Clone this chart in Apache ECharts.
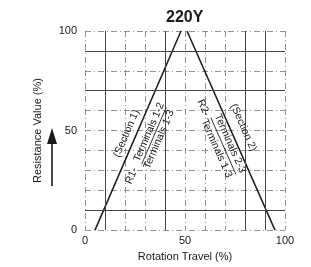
<!DOCTYPE html>
<html>
<head>
<meta charset="utf-8">
<script src="https://cdn.jsdelivr.net/npm/echarts@6/dist/echarts.min.js"></script>
<style>
html, body { margin: 0; padding: 0; background: #fff; }
#chart { width: 311px; height: 267px; }
</style>
</head>
<body>
<div id="chart"></div>
<script>
// the two resistance curves (travel %, value %)
const r1Travel = [5, 48];
const r1Value = [0, 100];
const r2Travel = [51, 95];
const r2Value = [100, 0];
const labelTicks = [0, 50, 100];

// the heavier (solid) rules of the printed grid paper
const solidRows = [10, 70, 90];
const solidCols = [10, 40, 80, 90];

// text notes along the curves, placed in data coords
const noteTexts = ['(Section 1)', 'R1-', 'Terminals 1-2', 'Terminals 1-3',
                   '(Section 2)', 'R2-', 'Terminals 2-3', 'Terminals 1-3'];
const noteAt = [[20.8, 48.5], [23.3, 27.2], [32, 49.2], [37, 45.5],
                [79.2, 51.5], [59.2, 61.4], [72.5, 43.5], [65.8, 41]];
const noteCurve = [1, 1, 1, 1, 2, 2, 2, 2];
const barAt = [[34.5, 47.4], [69.2, 42.2]];

const FONT = "'Liberation Sans', Arial, Helvetica, sans-serif";
const INK = '#1a1a1a';

function pairs(xs, ys) {
  return xs.map((x, i) => [x, ys[i]]);
}

var chart = echarts.init(document.getElementById('chart'));
var gridLine = { color: '#777', width: 0.8, type: [6, 3, 1, 3] };

var solidMarks = solidRows.map(v => ({ yAxis: v }))
  .concat(solidCols.map(v => ({ xAxis: v })));

chart.setOption({
  animation: false,
  title: {
    text: '220Y',
    left: 161,
    top: 5,
    textStyle: { fontFamily: FONT, fontSize: 16, fontWeight: 'bold', color: INK }
  },
  grid: { left: 85, right: 26, top: 31, bottom: 36 },
  xAxis: {
    type: 'value', min: 0, max: 100, interval: 10,
    name: 'Rotation Travel (%)', nameLocation: 'middle', nameGap: 20,
    nameTextStyle: { fontFamily: FONT, fontSize: 11, color: INK },
    axisLine: { show: false }, axisTick: { show: false },
    axisLabel: {
      margin: 5, fontFamily: FONT, fontSize: 11, color: INK,
      formatter: v => labelTicks.includes(v) ? String(v) : ''
    },
    splitLine: { show: true, lineStyle: gridLine }
  },
  yAxis: {
    type: 'value', min: 0, max: 100, interval: 10,
    name: 'Resistance Value (%)', nameLocation: 'middle', nameGap: 42,
    nameTextStyle: { fontFamily: FONT, fontSize: 11, color: INK },
    axisLine: { show: false }, axisTick: { show: false },
    axisLabel: {
      margin: 8, fontFamily: FONT, fontSize: 11, color: INK,
      formatter: v => labelTicks.includes(v) ? String(v) : ''
    },
    splitLine: { show: true, lineStyle: gridLine }
  },
  series: [
    { type: 'line', data: pairs(r1Travel, r1Value), showSymbol: false, z: 3,
      lineStyle: { color: INK, width: 1.5 },
      markLine: {
        silent: true, symbol: ['none', 'none'], label: { show: false },
        lineStyle: { color: '#444', width: 1, type: 'solid' },
        data: solidMarks
      } },
    { type: 'line', data: pairs(r2Travel, r2Value), showSymbol: false, z: 3,
      lineStyle: { color: INK, width: 1.5 } }
  ]
});

function angleOf(xs, ys) {
  var a = chart.convertToPixel({ gridIndex: 0 }, [xs[0], ys[0]]);
  var b = chart.convertToPixel({ gridIndex: 0 }, [xs[1], ys[1]]);
  var ang = Math.atan2(-(b[1] - a[1]), b[0] - a[0]);
  if (ang > Math.PI / 2) ang -= Math.PI;
  if (ang < -Math.PI / 2) ang += Math.PI;
  return ang;
}

var angles = { 1: angleOf(r1Travel, r1Value), 2: angleOf(r2Travel, r2Value) };

var graphics = noteTexts.map((t, i) => {
  var p = chart.convertToPixel({ gridIndex: 0 }, noteAt[i]);
  return {
    type: 'text', x: p[0], y: p[1], rotation: angles[noteCurve[i]],
    style: { text: t, fontFamily: FONT, fontSize: 10.5, fill: INK,
             align: 'center', verticalAlign: 'middle',
             backgroundColor: 'rgba(255,255,255,0)' }
  };
});

barAt.forEach((d, i) => {
  var p = chart.convertToPixel({ gridIndex: 0 }, d);
  graphics.push({
    type: 'line', x: p[0], y: p[1], rotation: angles[i + 1],
    shape: { x1: -31, y1: 0, x2: 31, y2: 0 },
    style: { stroke: INK, lineWidth: 0.8 }
  });
});

// arrow beside the y axis name
graphics.push({
  type: 'line', shape: { x1: 52, y1: 186, x2: 52, y2: 140 },
  style: { stroke: INK, lineWidth: 1.6 }
});
graphics.push({
  type: 'polygon', shape: { points: [[52, 128], [47, 144], [57, 144]] },
  style: { fill: INK }
});

chart.setOption({ graphic: graphics });
</script>
</body>
</html>
